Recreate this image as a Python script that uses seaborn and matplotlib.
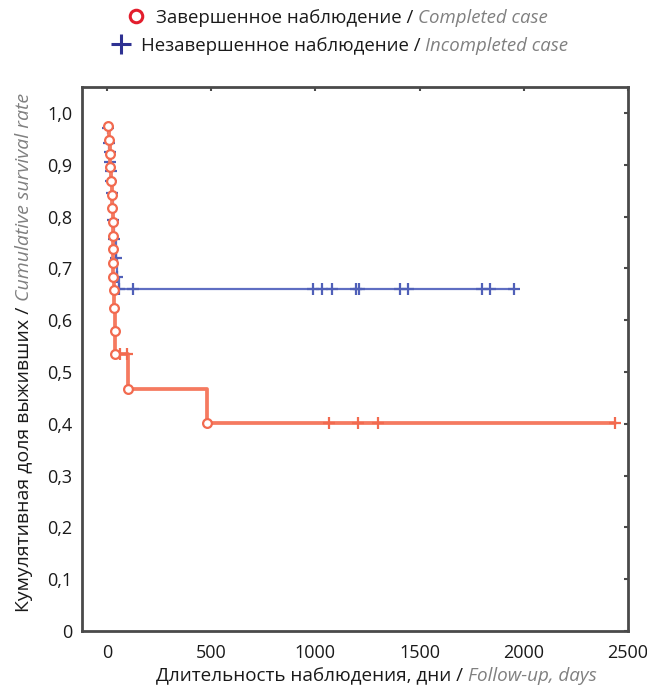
import matplotlib
matplotlib.use("Agg")
import matplotlib.pyplot as plt
from matplotlib.lines import Line2D
from matplotlib.transforms import IdentityTransform
import numpy as np
import pandas as pd
import seaborn as sns

# ---------------- data ----------------
# Completed cases: events (circles) and censored marks
red_event_days = [3, 10, 13, 16, 20, 23, 25, 27, 28, 29, 30, 31, 32, 34, 36, 40, 103, 478]
red_event_surv = [0.974, 0.947, 0.921, 0.895, 0.868, 0.842, 0.816, 0.789, 0.763, 0.737,
                  0.711, 0.684, 0.658, 0.623, 0.579, 0.535, 0.468, 0.401]
red_censor_days = [64, 96, 1064, 1203, 1298, 2438]
red_censor_surv = [0.535, 0.535, 0.401, 0.401, 0.401, 0.401]

# Incompleted cases (plus marks)
blue_days = [4, 8, 12, 15, 18, 21, 24, 30, 35, 42, 48, 58, 125,
             987, 1033, 1080, 1195, 1208, 1405, 1442, 1800, 1840, 1952]
blue_surv = [0.970, 0.942, 0.925, 0.906, 0.888, 0.868, 0.846, 0.794, 0.757, 0.720, 0.684,
             0.661, 0.661, 0.661, 0.661, 0.661, 0.661, 0.661, 0.661, 0.661, 0.661, 0.661, 0.661]

x_ticks = [0, 500, 1000, 1500, 2000, 2500]
x_tick_labels = ["0", "500", "1000", "1500", "2000", "2500"]
y_ticks = [0, 0.1, 0.2, 0.3, 0.4, 0.5, 0.6, 0.7, 0.8, 0.9, 1.0]
y_tick_labels = ["0", "0,1", "0,2", "0,3", "0,4", "0,5", "0,6", "0,7", "0,8", "0,9", "1,0"]

legend_ru = ["Завершенное наблюдение / ", "Незавершенное наблюдение / "]
legend_en = ["Completed case", "Incompleted case"]
xlabel_ru, xlabel_en = "Длительность наблюдения, дни / ", "Follow-up, days"
ylabel_ru, ylabel_en = "Кумулятивная доля выживших / ", "Cumulative survival rate"

# ---------------- style ----------------
RED_LINE = "#f57a60"
RED_MARK = "#f26a4f"
BLUE_LINE = "#5f6ec2"
BLUE_MARK = "#5060b8"
LEG_RED = "#e31e2d"
LEG_BLUE = "#2e3192"
GREY = "#808080"
SPINE = "#4a4a4a"
BLACK = "#1a1a1a"

sns.set_theme(style="white")
plt.rcParams["font.family"] = ["Open Sans", "DejaVu Sans"]

fig = plt.figure(figsize=(6.47, 6.88), dpi=100)
W, H = 647, 688
ax = fig.add_axes([82 / W, (H - 631) / H, (628 - 82) / W, (631 - 87) / H])

red_df = pd.DataFrame({"day": red_event_days + red_censor_days,
                       "surv": red_event_surv + red_censor_surv}).sort_values("day")
blue_df = pd.DataFrame({"day": blue_days, "surv": blue_surv})

sns.lineplot(data=blue_df, x="day", y="surv", drawstyle="steps-post", estimator=None,
             color=BLUE_LINE, linewidth=1.6, ax=ax, zorder=2)
sns.scatterplot(data=blue_df, x="day", y="surv", marker="+", s=70, color=BLUE_MARK,
                linewidth=1.6, ax=ax, zorder=3)

sns.lineplot(data=red_df, x="day", y="surv", drawstyle="steps-post", estimator=None,
             color=RED_LINE, linewidth=2.7, ax=ax, zorder=4)
sns.scatterplot(x=red_censor_days, y=red_censor_surv, marker="+", s=70, color=RED_MARK,
                linewidth=1.6, ax=ax, zorder=5)
sns.scatterplot(x=red_event_days, y=red_event_surv, marker="o", s=40, facecolor="white",
                edgecolor=RED_MARK, linewidth=1.6, ax=ax, zorder=6)

ax.set_xlim(-120, 2500)
ax.set_ylim(0, 1.05)
ax.set_xticks(x_ticks)
ax.set_xticklabels(x_tick_labels)
ax.set_yticks(y_ticks)
ax.set_yticklabels(y_tick_labels)
ax.tick_params(direction="in", length=3, width=1.5, color=SPINE, top=True, right=True,
               labelsize=13, labelcolor=BLACK)
ax.tick_params(axis="x", pad=9)
ax.tick_params(axis="y", pad=7)
for sp in ax.spines.values():
    sp.set_visible(True)
    sp.set_color(SPINE)
    sp.set_linewidth(2)

# axis labels (Russian in black, English in grey italic)
XL_FS, YL_FS, LEG_FS = 13.6, 14.0, 13.4
ax.set_xlabel(xlabel_ru, fontsize=XL_FS, color=BLACK, ha="left")
ax.xaxis.set_label_coords(0.135, -0.066)
ax.xaxis.label.set_va("top")
ax.set_ylabel(ylabel_ru, fontsize=YL_FS, color=BLACK, ha="left")
ax.yaxis.set_label_coords(-0.09, 0.035)

# legend rows
handles = [
    Line2D([], [], linestyle="none", marker="o", markersize=9, markerfacecolor="white",
           markeredgecolor=LEG_RED, markeredgewidth=2.2),
    Line2D([], [], linestyle="none", marker="+", markersize=14, color=LEG_BLUE,
           markeredgewidth=2.2),
]
anchors = [(127 / W, 1 - 18 / H), (112 / W, 1 - 46 / H)]
legend_texts = []
for h, lab_ru, anc in zip(handles, legend_ru, anchors):
    leg = fig.legend([h], [lab_ru], loc="center left", bbox_to_anchor=anc, frameon=False,
                     fontsize=LEG_FS, handlelength=1.0, handletextpad=0.55, borderpad=0,
                     borderaxespad=0)
    t = leg.get_texts()[0]
    t.set_color(BLACK)
    legend_texts.append(t)

# place the grey italic English parts right after the black Russian parts
fig.canvas.draw()
r = fig.canvas.get_renderer()
for t, lab_en in zip(legend_texts, legend_en):
    bb = t.get_window_extent(r)
    fig.text(bb.x1, bb.y0, lab_en, transform=IdentityTransform(), ha="left", va="bottom",
             fontsize=LEG_FS, color=GREY, style="italic")
bb = ax.xaxis.label.get_window_extent(r)
fig.text(bb.x1, bb.y0, xlabel_en, transform=IdentityTransform(), ha="left", va="bottom",
         fontsize=XL_FS, color=GREY, style="italic")
bb = ax.yaxis.label.get_window_extent(r)
fig.text(bb.x1, bb.y1, ylabel_en, transform=IdentityTransform(), ha="right", va="bottom",
         rotation=90, fontsize=YL_FS, color=GREY, style="italic")

fig.savefig("out.png", dpi=100, facecolor="white")
